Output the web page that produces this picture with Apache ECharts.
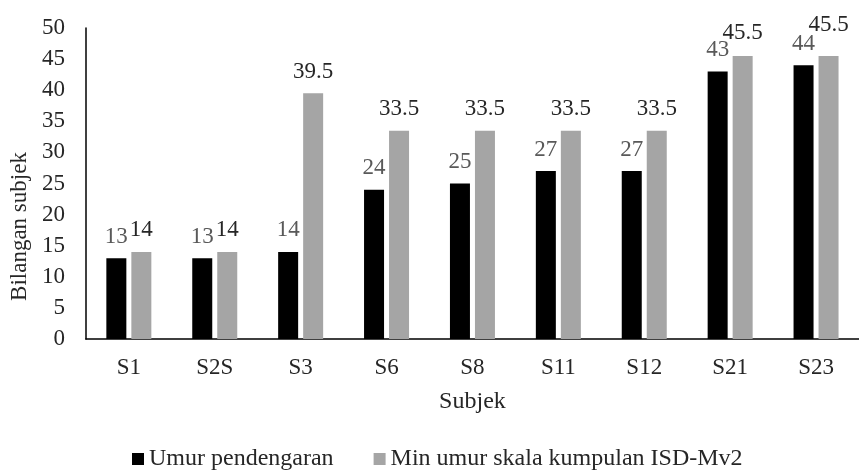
<!DOCTYPE html>
<html>
<head>
<meta charset="utf-8">
<script src="https://cdn.jsdelivr.net/npm/echarts@6/dist/echarts.min.js"></script>
<style>
  html, body { margin: 0; padding: 0; background: #fff; }
  #chart { width: 859px; height: 475px; }
</style>
</head>
<body>
<div id="chart"></div>
<script>
// Subjects along the x axis
const subjects = ['S1', 'S2S', 'S3', 'S6', 'S8', 'S11', 'S12', 'S21', 'S23'];
// Hearing age per subject
const umurPendengaran = [13, 13, 14, 24, 25, 27, 27, 43, 44];
// Mean age of the ISD-Mv2 group scale per subject
const minUmurSkala = [14, 14, 39.5, 33.5, 33.5, 33.5, 33.5, 45.5, 45.5];
// Y axis range
const yTicks = { min: 0, max: 50, interval: 5 };

const FONT = '"Liberation Serif", "Times New Roman", serif';

const chart = echarts.init(document.getElementById('chart'), null, { renderer: 'canvas' });

// The two rightmost grey labels are nudged up so they clear their neighbours
const greyOffsets = { 7: [0, -2], 8: [0, -10] };
const greyData = minUmurSkala.map((v, i) =>
  greyOffsets[i] ? { value: v, label: { offset: greyOffsets[i] } } : v
);

chart.setOption({
  animation: false,
  backgroundColor: '#ffffff',
  textStyle: { fontFamily: FONT },
  grid: { left: 83, right: -12, top: 28, bottom: 136, containLabel: false },
  legend: {
    left: 132,
    top: 447,
    padding: 0,
    itemWidth: 12,
    itemHeight: 12,
    itemGap: 40,
    icon: 'rect',
    textStyle: { fontFamily: FONT, fontSize: 24, color: '#262626' },
    data: ['Umur pendengaran', 'Min umur skala kumpulan ISD-Mv2']
  },
  xAxis: {
    type: 'category',
    data: subjects,
    name: 'Subjek',
    nameLocation: 'middle',
    nameGap: 51,
    nameTextStyle: { fontFamily: FONT, fontSize: 24, color: '#262626' },
    axisLine: { show: true, lineStyle: { color: '#000', width: 1.5 } },
    axisTick: { show: false },
    axisLabel: { fontFamily: FONT, fontSize: 23, color: '#262626', margin: 17 },
    splitLine: { show: false }
  },
  yAxis: {
    type: 'value',
    min: yTicks.min,
    max: yTicks.max,
    interval: yTicks.interval,
    name: 'Bilangan subjek',
    nameLocation: 'middle',
    nameGap: 41,
    // the title sits below the middle of the axis
    nameTextStyle: { fontFamily: FONT, fontSize: 23, color: '#262626', padding: [0, 86, 0, 0] },
    axisLine: { show: true, lineStyle: { color: '#000', width: 1.5 } },
    axisTick: { show: false },
    axisLabel: { fontFamily: FONT, fontSize: 23, color: '#262626', margin: 21 },
    splitLine: { show: false }
  },
  series: [
    {
      name: 'Umur pendengaran',
      type: 'bar',
      data: umurPendengaran,
      barWidth: 20,
      barGap: '25%',
      itemStyle: { color: '#000000' },
      label: {
        show: true,
        position: 'top',
        distance: 10,
        fontFamily: FONT,
        fontSize: 23,
        color: '#595959'
      }
    },
    {
      name: 'Min umur skala kumpulan ISD-Mv2',
      type: 'bar',
      data: greyData,
      barWidth: 20,
      itemStyle: { color: '#a5a5a5' },
      label: {
        show: true,
        position: 'top',
        distance: 10,
        fontFamily: FONT,
        fontSize: 23,
        color: '#262626'
      }
    }
  ]
});
</script>
</body>
</html>
